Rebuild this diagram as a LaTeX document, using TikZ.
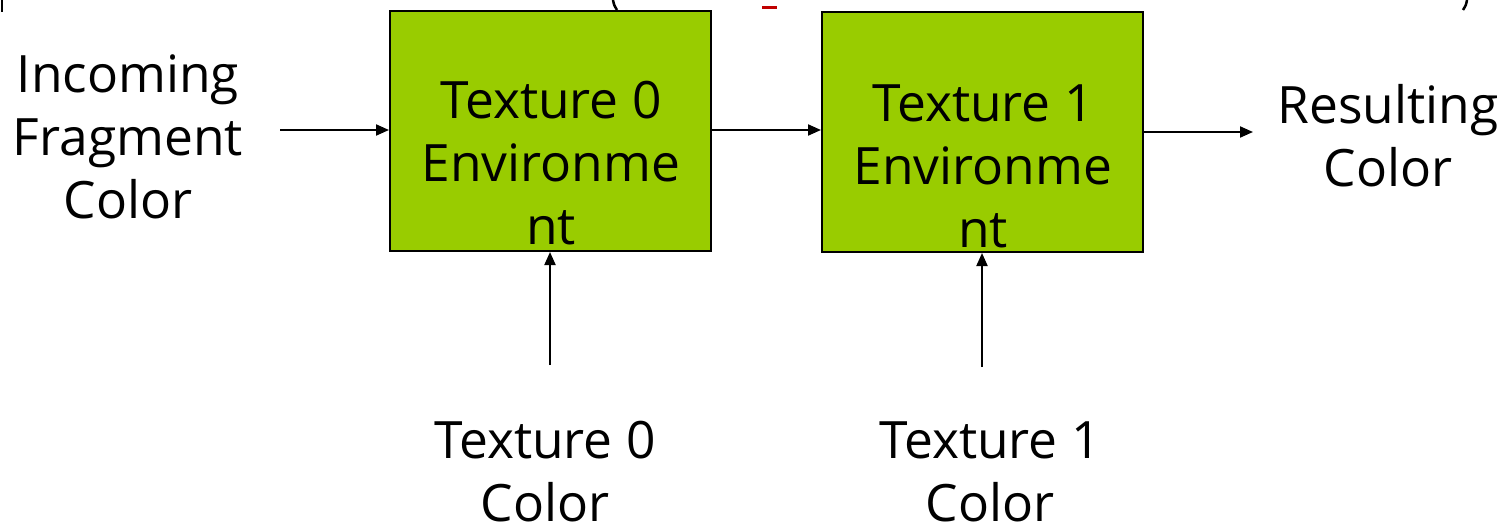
\documentclass[tikz,border=0pt]{standalone}
\usepackage{fontspec}
\setmainfont{Open Sans}
\usetikzlibrary{arrows.meta}
\definecolor{boxgreen}{HTML}{99CC00}
\definecolor{titlered}{HTML}{C00000}
\tikzset{
  stagebox/.style={draw=black, line width=2pt, fill=boxgreen, minimum width=321pt, minimum height=240pt, inner sep=0pt},
  lbl/.style={align=center, font=\fontsize{51.5}{63}\selectfont, inner sep=0pt},
  flow/.style={line width=2pt, -{Triangle[length=13pt,width=11pt]}},
}
\begin{document}
\begin{tikzpicture}[x=1pt,y=-1pt]
\useasboundingbox (0,0) rectangle (1506,524);
% remnants of the heading line above
\draw[line width=2.5pt] (2,0) -- (2,12);
\draw[line width=2.5pt] (613,0) .. controls (614,5) .. (617,10);
\fill[titlered] (762,6) rectangle (777,9);
\draw[line width=2.5pt] (1467,0) .. controls (1466,5) .. (1463,10);
% combiner stages
\node[stagebox] (b0) at (550.5,131) {};
\node[stagebox] (b1) at (982.5,132) {};
\node[lbl] (t0) at (551,163) {Texture 0\\Environme\\nt};
\node[lbl] (t1) at (983,166) {Texture 1\\Environme\\nt};
% inputs and output
\node[lbl] (in) at (128,137) {Incoming\\Fragment\\Color};
\node[lbl] (out) at (1388,136) {Resulting\\Color};
\node[lbl] (c0) at (545,472) {Texture 0\\Color};
\node[lbl] (c1) at (990,472) {Texture 1\\Color};
\coordinate (inS) at (280,130);
\coordinate (outE) at (1253,132);
\coordinate (c0S) at (550,365);
\coordinate (c1S) at (982,367);
\draw[flow] (inS) -- (b0.west |- inS);
\draw[flow] (b0.east |- inS) -- (b1.west |- inS);
\draw[flow] (b1.east |- outE) -- (outE);
\draw[flow] (c0S) -- (b0.south -| c0S);
\draw[flow] (c1S) -- (b1.south -| c1S);
\end{tikzpicture}
\end{document}
